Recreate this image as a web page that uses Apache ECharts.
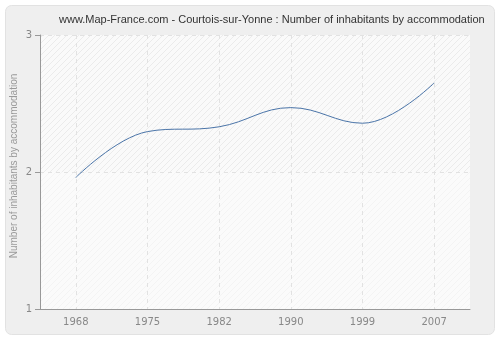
<!DOCTYPE html>
<html>
<head>
<meta charset="utf-8">
<script src="https://cdn.jsdelivr.net/npm/echarts@6/dist/echarts.min.js"></script>
<style>
  html, body { margin: 0; padding: 0; background: #fff; }
  #main { width: 500px; height: 340px; }
</style>
</head>
<body>
<div id="main"></div>
<script>
// data
var years = ['1968', '1975', '1982', '1990', '1999', '2007'];
var inhabitants = [1.96, 2.295, 2.33, 2.47, 2.356, 2.65];
var yTicks = [1, 2, 3];

// little hatch pattern for the plot background
function hatch(bg, stroke) {
    var c = document.createElement('canvas');
    c.width = 6; c.height = 6;
    var ctx = c.getContext('2d');
    ctx.fillStyle = bg;
    ctx.fillRect(0, 0, 6, 6);
    ctx.strokeStyle = stroke;
    ctx.lineWidth = 1;
    ctx.beginPath();
    ctx.moveTo(0, 6); ctx.lineTo(6, 0);
    ctx.moveTo(-1, 1); ctx.lineTo(1, -1);
    ctx.moveTo(5, 7); ctx.lineTo(7, 5);
    ctx.stroke();
    return { image: c, repeat: 'repeat' };
}

var myChart = echarts.init(document.getElementById('main'));
myChart.setOption({
    animation: false,
    graphic: [{
        type: 'rect',
        z: -10,
        shape: { x: 5.5, y: 5.5, width: 489, height: 329, r: 6 },
        style: { fill: '#efefef', stroke: '#e2e2e2', lineWidth: 1 }
    }],
    title: {
        text: 'www.Map-France.com - Courtois-sur-Yonne : Number of inhabitants by accommodation',
        left: 54,
        top: 9,
        textStyle: { fontFamily: 'Liberation Sans', fontSize: 11, fontWeight: 'normal', color: '#333' }
    },
    grid: {
        left: 40, right: 30, top: 35, bottom: 31,
        outerBoundsMode: 'none',
        show: true, borderWidth: 0,
        backgroundColor: hatch('#fbfbfb', '#f1f1f1')
    },
    xAxis: {
        type: 'category',
        data: years,
        boundaryGap: true,
        axisLine: { lineStyle: { color: '#999' } },
        axisTick: { alignWithLabel: true, length: 5, lineStyle: { color: '#999' } },
        axisLabel: { color: '#888', fontFamily: 'DejaVu Sans', fontSize: 10, margin: 8 },
        splitLine: { show: true, alignWithLabel: true, lineStyle: { color: '#e2e2e2', type: [4, 4] } }
    },
    yAxis: {
        type: 'value',
        min: yTicks[0],
        max: yTicks[yTicks.length - 1],
        interval: 1,
        name: 'Number of inhabitants by accommodation',
        nameLocation: 'middle',
        nameGap: 21,
        nameMoveOverlap: false,
        nameTextStyle: { color: '#999', fontFamily: 'Liberation Sans', fontSize: 10, padding: [0, 0, 0, 12] },
        axisLine: { show: true, lineStyle: { color: '#999' } },
        axisTick: { show: true, length: 5, lineStyle: { color: '#999' } },
        axisLabel: { color: '#888', fontFamily: 'DejaVu Sans', fontSize: 10, margin: 8 },
        splitLine: { show: true, lineStyle: { color: '#e2e2e2', type: [4, 4] } },
        splitArea: { show: true, areaStyle: { color: [hatch('#fbfbfb', '#f4f4f4'), hatch('#fafafa', '#ebebeb')] } }
    },
    series: [{
        type: 'line',
        data: inhabitants,
        smooth: 0.4,
        symbol: 'none',
        lineStyle: { color: '#4a74a8', width: 1 }
    }]
});
</script>
</body>
</html>
